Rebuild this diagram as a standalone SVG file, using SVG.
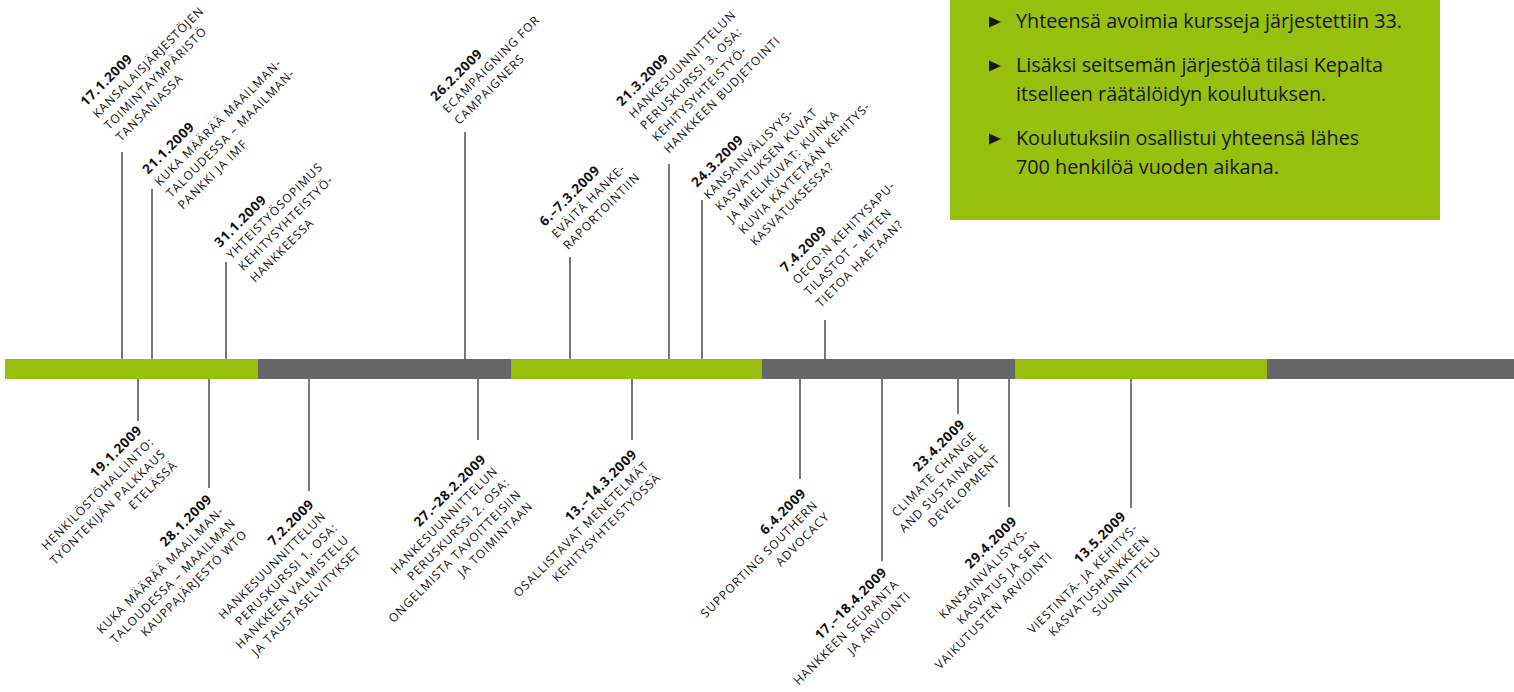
<svg xmlns="http://www.w3.org/2000/svg" width="1514" height="692" viewBox="0 0 1514 692">
<style>
.bg{fill:#ffffff}
.g{fill:#97bf0d}
.k{fill:#666769}
.ln{stroke:#7a7a7a;stroke-width:2;fill:none}
.lab{font-family:"Open Sans","Noto Sans","Liberation Sans",sans-serif;font-size:12px;letter-spacing:1px;fill:#111111}
.lab .d{font-weight:700;font-size:13.5px;letter-spacing:0.6px}
.up{text-anchor:start}
.dn{text-anchor:end}
.info{font-family:"Open Sans","Noto Sans","Liberation Sans",sans-serif;font-size:19.8px;fill:#161616}
.bul{fill:#161616}
</style>
<defs>
<polygon id="tri" points="0,-5.5 12,0 0,5.5"/>
</defs>
<rect class="bg" x="0" y="0" width="1514" height="692"/>

<g id="infobox">
<rect class="g" x="950" y="0" width="490" height="220"/>
<use href="#tri" class="bul" x="989" y="22"/>
<use href="#tri" class="bul" x="989" y="66"/>
<use href="#tri" class="bul" x="989" y="139"/>
<text class="info" x="1016" y="28">Yhteensä avoimia kursseja järjestettiin 33.</text>
<text class="info" x="1016" y="72">Lisäksi seitsemän järjestöä tilasi Kepalta</text>
<text class="info" x="1016" y="101">itselleen räätälöidyn koulutuksen.</text>
<text class="info" x="1016" y="145">Koulutuksiin osallistui yhteensä lähes</text>
<text class="info" x="1016" y="174">700 henkilöä vuoden aikana.</text>
</g>

<g id="timeline">
<rect class="g" x="5" y="359" width="253" height="20"/>
<rect class="k" x="258" y="359" width="253" height="20"/>
<rect class="g" x="511" y="359" width="251" height="20"/>
<rect class="k" x="762" y="359" width="253" height="20"/>
<rect class="g" x="1015" y="359" width="252" height="20"/>
<rect class="k" x="1267" y="359" width="247" height="20"/>
</g>

<g id="connectors">
<line class="ln" x1="122" y1="152" x2="122" y2="359"/>
<line class="ln" x1="152" y1="189" x2="152" y2="359"/>
<line class="ln" x1="226" y1="262" x2="226" y2="359"/>
<line class="ln" x1="465" y1="132" x2="465" y2="359"/>
<line class="ln" x1="570" y1="257" x2="570" y2="359"/>
<line class="ln" x1="669" y1="164" x2="669" y2="359"/>
<line class="ln" x1="702" y1="200" x2="702" y2="359"/>
<line class="ln" x1="825" y1="320" x2="825" y2="359"/>
<line class="ln" x1="138" y1="379" x2="138" y2="421"/>
<line class="ln" x1="209" y1="379" x2="209" y2="488"/>
<line class="ln" x1="309" y1="379" x2="309" y2="491"/>
<line class="ln" x1="478" y1="379" x2="478" y2="440"/>
<line class="ln" x1="632" y1="379" x2="632" y2="440"/>
<line class="ln" x1="800" y1="379" x2="800" y2="479"/>
<line class="ln" x1="882" y1="379" x2="882" y2="561"/>
<line class="ln" x1="958" y1="379" x2="958" y2="414"/>
<line class="ln" x1="1009" y1="379" x2="1009" y2="507"/>
<line class="ln" x1="1131" y1="379" x2="1131" y2="508"/>
</g>

<g id="e-17-1" transform="translate(86,107) rotate(-45)"><text class="lab up"><tspan class="d" x="0" y="0">17.1.2009</tspan><tspan x="0" dy="16.5">KANSALAISJÄRJESTÖJEN</tspan><tspan x="0" dy="16.5">TOIMINTAYMPÄRISTÖ</tspan><tspan x="0" dy="16.5">TANSANIASSA</tspan></text></g>
<g id="e-21-1" transform="translate(148,175) rotate(-45)"><text class="lab up"><tspan class="d" x="0" y="0">21.1.2009</tspan><tspan x="0" dy="16.5">KUKA MÄÄRÄÄ MAAILMAN-</tspan><tspan x="0" dy="16.5">TALOUDESSA – MAAILMAN-</tspan><tspan x="0" dy="16.5">PANKKI JA IMF</tspan></text></g>
<g id="e-31-1" transform="translate(220,248) rotate(-45)"><text class="lab up"><tspan class="d" x="0" y="0">31.1.2009</tspan><tspan x="0" dy="16.5">YHTEISTYÖSOPIMUS</tspan><tspan x="0" dy="16.5">KEHITYSYHTEISTYÖ-</tspan><tspan x="0" dy="16.5">HANKKEESSA</tspan></text></g>
<g id="e-26-2" transform="translate(436,102) rotate(-45)"><text class="lab up"><tspan class="d" x="0" y="0">26.2.2009</tspan><tspan x="0" dy="16.5">ECAMPAIGNING FOR</tspan><tspan x="0" dy="16.5">CAMPAIGNERS</tspan></text></g>
<g id="e-6-3" transform="translate(545,227) rotate(-45)"><text class="lab up"><tspan class="d" x="0" y="0">6.–7.3.2009</tspan><tspan x="0" dy="16.5">EVÄITÄ HANKE-</tspan><tspan x="0" dy="16.5">RAPORTOINTIIN</tspan></text></g>
<g id="e-21-3" transform="translate(622,107) rotate(-45)"><text class="lab up"><tspan class="d" x="0" y="0">21.3.2009</tspan><tspan x="0" dy="16.5">HANKESUUNNITTELUN</tspan><tspan x="0" dy="16.5">PERUSKURSSI 3. OSA:</tspan><tspan x="0" dy="16.5">KEHITYSYHTEISTYÖ-</tspan><tspan x="0" dy="16.5">HANKKEEN BUDJETOINTI</tspan></text></g>
<g id="e-24-3" transform="translate(697,188) rotate(-45)"><text class="lab up"><tspan class="d" x="0" y="0">24.3.2009</tspan><tspan x="0" dy="16.5">KANSAINVÄLISYYS-</tspan><tspan x="0" dy="16.5">KASVATUKSEN KUVAT</tspan><tspan x="0" dy="16.5">JA MIELIKUVAT: KUINKA</tspan><tspan x="0" dy="16.5">KUVIA KÄYTETÄÄN KEHITYS-</tspan><tspan x="0" dy="16.5">KASVATUKSESSA?</tspan></text></g>
<g id="e-7-4" transform="translate(786,273) rotate(-45)"><text class="lab up"><tspan class="d" x="0" y="0">7.4.2009</tspan><tspan x="0" dy="16.5">OECD:N KEHITYSAPU-</tspan><tspan x="0" dy="16.5">TILASTOT – MITEN</tspan><tspan x="0" dy="16.5">TIETOA HAETAAN?</tspan></text></g>

<g id="e-19-1" transform="translate(143,431) rotate(-45)"><text class="lab dn"><tspan class="d" x="0" y="0">19.1.2009</tspan><tspan x="0" dy="16.5">HENKILÖSTÖHALLINTO:</tspan><tspan x="0" dy="16.5">TYÖNTEKIJÄN PALKKAUS</tspan><tspan x="0" dy="16.5">ETELÄSSÄ</tspan></text></g>
<g id="e-28-1" transform="translate(213,500) rotate(-45)"><text class="lab dn"><tspan class="d" x="0" y="0">28.1.2009</tspan><tspan x="0" dy="16.5">KUKA MÄÄRÄÄ MAAILMAN-</tspan><tspan x="0" dy="16.5">TALOUDESSA – MAAILMAN</tspan><tspan x="0" dy="16.5">KAUPPAJÄRJESTÖ WTO</tspan></text></g>
<g id="e-7-2" transform="translate(315,505) rotate(-45)"><text class="lab dn"><tspan class="d" x="0" y="0">7.2.2009</tspan><tspan x="0" dy="16.5">HANKESUUNNITTELUN</tspan><tspan x="0" dy="16.5">PERUSKURSSI 1. OSA:</tspan><tspan x="0" dy="16.5">HANKKEEN VALMISTELU</tspan><tspan x="0" dy="16.5">JA TAUSTASELVITYKSET</tspan></text></g>
<g id="e-27-2" transform="translate(487,460) rotate(-45)"><text class="lab dn"><tspan class="d" x="0" y="0">27.–28.2.2009</tspan><tspan x="0" dy="16.5">HANKESUUNNITTELUN</tspan><tspan x="0" dy="16.5">PERUSKURSSI 2. OSA:</tspan><tspan x="0" dy="16.5">ONGELMISTA TAVOITTEISIIN</tspan><tspan x="0" dy="16.5">JA TOIMINTAAN</tspan></text></g>
<g id="e-13-3" transform="translate(638,455) rotate(-45)"><text class="lab dn"><tspan class="d" x="0" y="0">13.–14.3.2009</tspan><tspan x="0" dy="16.5">OSALLISTAVAT MENETELMÄT</tspan><tspan x="0" dy="16.5">KEHITYSYHTEISTYÖSSÄ</tspan></text></g>
<g id="e-6-4" transform="translate(807,494) rotate(-45)"><text class="lab dn"><tspan class="d" x="0" y="0">6.4.2009</tspan><tspan x="0" dy="16.5">SUPPORTING SOUTHERN</tspan><tspan x="0" dy="16.5">ADVOCACY</tspan></text></g>
<g id="e-17-4" transform="translate(888,573) rotate(-45)"><text class="lab dn"><tspan class="d" x="0" y="0">17.–18.4.2009</tspan><tspan x="0" dy="16.5">HANKKEEN SEURANTA</tspan><tspan x="0" dy="16.5">JA ARVIOINTI</tspan></text></g>
<g id="e-23-4" transform="translate(966,425) rotate(-45)"><text class="lab dn"><tspan class="d" x="0" y="0">23.4.2009</tspan><tspan x="0" dy="16.5">CLIMATE CHANGE</tspan><tspan x="0" dy="16.5">AND SUSTAINABLE</tspan><tspan x="0" dy="16.5">DEVELOPMENT</tspan></text></g>
<g id="e-29-4" transform="translate(1018,522) rotate(-45)"><text class="lab dn"><tspan class="d" x="0" y="0">29.4.2009</tspan><tspan x="0" dy="16.5">KANSAINVÄLISYYS-</tspan><tspan x="0" dy="16.5">KASVATUS JA SEN</tspan><tspan x="0" dy="16.5">VAIKUTUSTEN ARVIOINTI</tspan></text></g>
<g id="e-13-5" transform="translate(1127,517) rotate(-45)"><text class="lab dn"><tspan class="d" x="0" y="0">13.5.2009</tspan><tspan x="0" dy="16.5">VIESTINTÄ- JA KEHITYS-</tspan><tspan x="0" dy="16.5">KASVATUSHANKKEEN</tspan><tspan x="0" dy="16.5">SUUNNITTELU</tspan></text></g>
</svg>
